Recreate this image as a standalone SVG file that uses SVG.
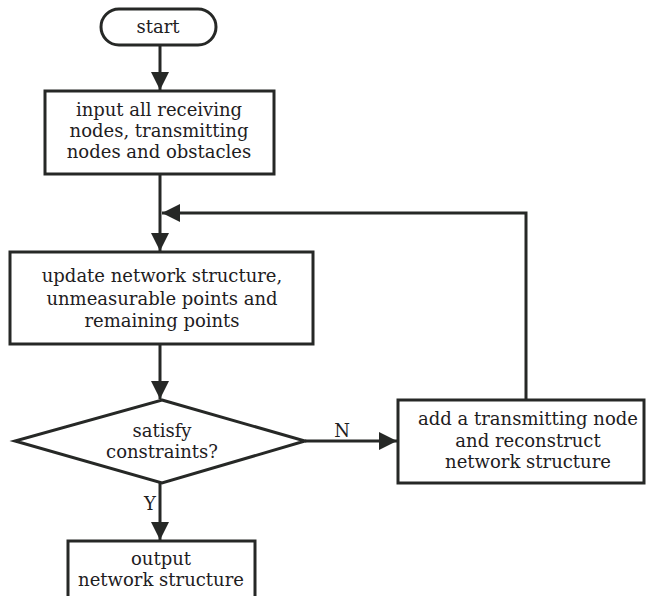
<svg xmlns="http://www.w3.org/2000/svg" width="646" height="596" viewBox="0 0 646 596">
<style>
.box{fill:#fff;stroke:#262826;stroke-width:3}
.ln{fill:none;stroke:#262826;stroke-width:3}
text{font-family:"DejaVu Serif","Liberation Serif",serif;font-size:18px;fill:#1e201e;text-anchor:middle}
</style>
<defs>
<marker id="ah" markerWidth="18" markerHeight="18" refX="18" refY="9" orient="auto" markerUnits="userSpaceOnUse">
<path d="M0,0 L18,9 L0,18 Z" fill="#262826"/>
</marker>
</defs>
<rect width="646" height="596" fill="#fff"/>
<g id="connectors">
<line class="ln" x1="160" y1="45" x2="160" y2="90" marker-end="url(#ah)"/>
<line class="ln" x1="160" y1="174" x2="160" y2="251" marker-end="url(#ah)"/>
<polyline class="ln" points="526,400 526,213 162,213" marker-end="url(#ah)"/>
<line class="ln" x1="160" y1="344" x2="160" y2="399" marker-end="url(#ah)"/>
<line class="ln" x1="305" y1="441" x2="397" y2="441" marker-end="url(#ah)"/>
<line class="ln" x1="160" y1="483" x2="160" y2="540" marker-end="url(#ah)"/>
<text x="342" y="437">N</text>
<text x="150" y="510">Y</text>
</g>
<g id="start">
<rect class="box" x="101" y="9" width="115" height="36" rx="18"/>
<text x="158" y="33">start</text>
</g>
<g id="input">
<rect class="box" x="45" y="91" width="229" height="83"/>
<text x="159" y="116">input all receiving</text>
<text x="159" y="137">nodes, transmitting</text>
<text x="159" y="158">nodes and obstacles</text>
</g>
<g id="update">
<rect class="box" x="10" y="252" width="303" height="92"/>
<text x="162" y="282">update network structure,</text>
<text x="162" y="305">unmeasurable points and</text>
<text x="162" y="327">remaining points</text>
</g>
<g id="decision">
<polygon class="box" points="162,400 305,441 162,483 15,441"/>
<text x="162" y="437">satisfy</text>
<text x="162" y="458">constraints?</text>
</g>
<g id="add">
<rect class="box" x="398" y="400" width="246" height="83"/>
<text x="528" y="425">add a transmitting node</text>
<text x="528" y="447">and reconstruct</text>
<text x="528" y="468">network structure</text>
</g>
<g id="output">
<rect class="box" x="68" y="541" width="187" height="60"/>
<text x="161" y="565">output</text>
<text x="161" y="586">network structure</text>
</g>
</svg>
